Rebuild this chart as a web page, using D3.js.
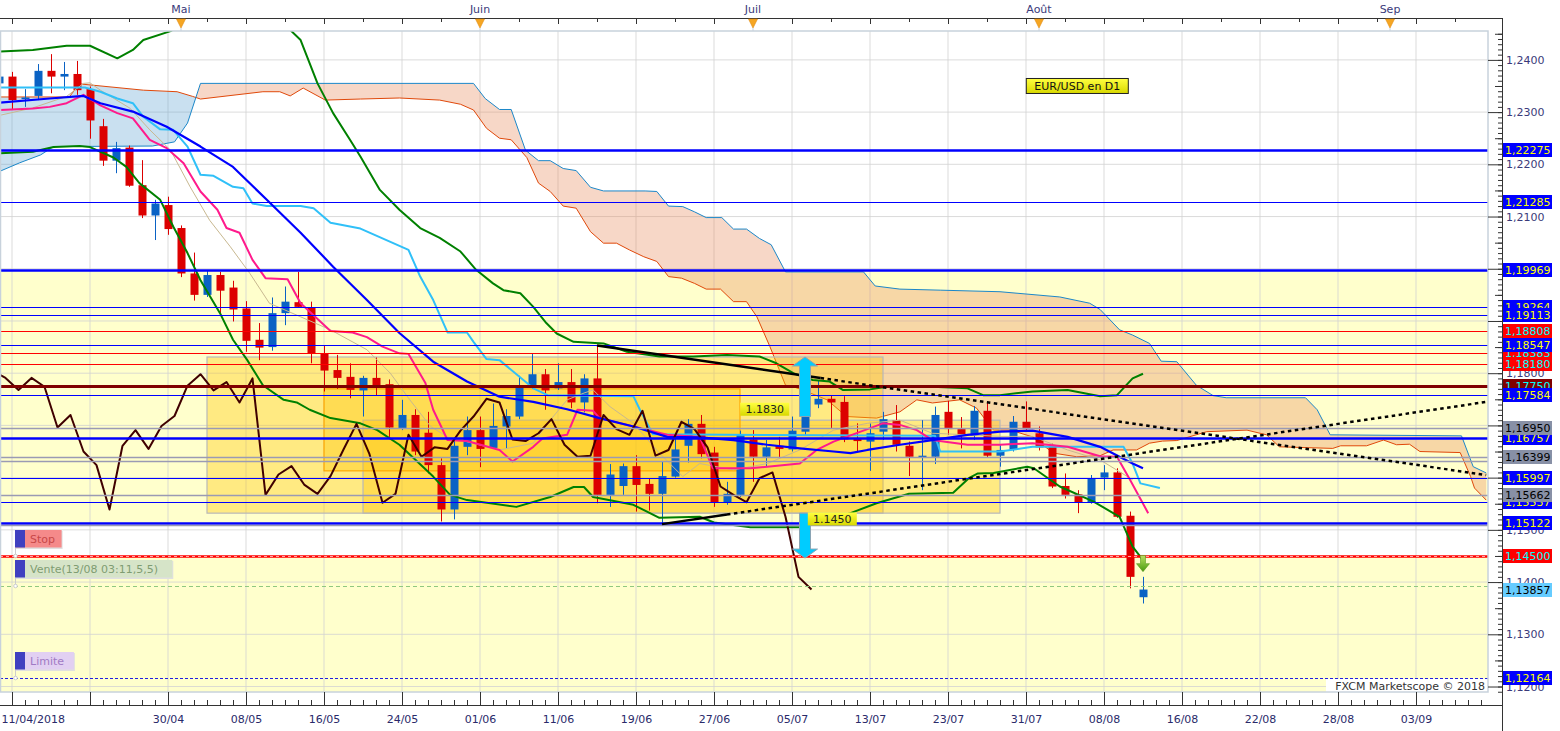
<!DOCTYPE html>
<html><head><meta charset="utf-8">
<script src="https://cdn.jsdelivr.net/npm/d3@7"></script>
<style>
body{margin:0;background:#fff;overflow:hidden}
svg{display:block}
text{font-family:"DejaVu Sans",Verdana,sans-serif;font-size:11px}
</style>
</head><body>
<svg id="c" width="1560" height="731"></svg>
<script>
// ---------------- DATA ----------------
const dates = ("11/04 12/04 13/04 16/04 17/04 18/04 19/04 20/04 23/04 24/04 25/04 26/04 27/04 30/04 " +
 "01/05 02/05 03/05 04/05 07/05 08/05 09/05 10/05 11/05 14/05 15/05 16/05 17/05 18/05 21/05 22/05 23/05 24/05 25/05 28/05 29/05 30/05 31/05 " +
 "01/06 04/06 05/06 06/06 07/06 08/06 11/06 12/06 13/06 14/06 15/06 18/06 19/06 20/06 21/06 22/06 25/06 26/06 27/06 28/06 29/06 " +
 "02/07 03/07 04/07 05/07 06/07 09/07 10/07 11/07 12/07 13/07 16/07 17/07 18/07 19/07 20/07 23/07 24/07 25/07 26/07 27/07 30/07 31/07 " +
 "01/08 02/08 03/08 06/08 07/08 08/08 09/08 10/08 13/08").split(" ");

const open = [1.2355,1.2368,1.2325,1.2331,1.2379,1.2368,1.2373,1.2344,1.2273,1.2207,
 1.2232,1.2160,1.2102,1.2122,1.2078,1.1991,1.1950,1.1988,1.1964,1.1924,
 1.1864,1.1850,1.1915,1.1936,1.1926,1.1838,1.1806,1.1793,1.1767,1.1791,
 1.1779,1.1695,1.1720,1.1686,1.1624,1.1539,1.1659,1.1691,1.1657,1.1698,
 1.1717,1.1773,1.1798,1.1771,1.1783,1.1744,1.1790,1.1567,1.1584,1.1622,
 1.1588,1.1569,1.1602,1.1661,1.1703,1.1648,1.1552,1.1567,1.1673,1.1640,
 1.1661,1.1654,1.1688,1.1740,1.1751,1.1745,1.1675,1.1669,1.1688,1.1710,
 1.1661,1.1639,1.1640,1.1726,1.1693,1.1680,1.1728,1.1642,1.1653,1.1707,
 1.1685,1.1659,1.1584,1.1568,1.1553,1.1600,1.1610,1.1527,1.1371];
const high = [1.2375,1.2377,1.2344,1.2392,1.2411,1.2396,1.2398,1.2349,1.2287,1.2243,
 1.2236,1.2208,1.2132,1.2138,1.2083,1.2031,1.1997,1.1994,1.1977,1.1938,
 1.1896,1.1945,1.1966,1.1994,1.1937,1.1852,1.1835,1.1819,1.1795,1.1830,
 1.1788,1.1749,1.1731,1.1726,1.1637,1.1672,1.1717,1.1717,1.1742,1.1731,
 1.1795,1.1838,1.1808,1.1819,1.1808,1.1798,1.1852,1.1626,1.1627,1.1643,
 1.1599,1.1632,1.1678,1.1712,1.1720,1.1659,1.1592,1.1690,1.1691,1.1672,
 1.1678,1.1717,1.1730,1.1787,1.1758,1.1756,1.1704,1.1704,1.1726,1.1739,
 1.1669,1.1710,1.1736,1.1747,1.1716,1.1737,1.1746,1.1662,1.1718,1.1746,
 1.1698,1.1665,1.1608,1.1576,1.1605,1.1624,1.1618,1.1535,1.1410];
const low = [1.2350,1.2304,1.2310,1.2323,1.2336,1.2342,1.2333,1.2249,1.2197,1.2183,
 1.2157,1.2097,1.2055,1.2065,1.1984,1.1939,1.1946,1.1913,1.1899,1.1841,
 1.1825,1.1843,1.1892,1.1926,1.1819,1.1765,1.1770,1.1752,1.1717,1.1758,
 1.1678,1.1691,1.1643,1.1608,1.1516,1.1520,1.1643,1.1620,1.1656,1.1655,
 1.1712,1.1770,1.1730,1.1768,1.1733,1.1725,1.1551,1.1544,1.1567,1.1535,
 1.1537,1.1511,1.1600,1.1629,1.1637,1.1544,1.1548,1.1563,1.1592,1.1621,
 1.1637,1.1650,1.1682,1.1733,1.1695,1.1668,1.1650,1.1613,1.1672,1.1650,
 1.1603,1.1576,1.1626,1.1682,1.1656,1.1672,1.1638,1.1621,1.1650,1.1688,
 1.1652,1.1580,1.1560,1.1532,1.1550,1.1576,1.1523,1.1388,1.1359];
const close = [1.2368,1.2323,1.2328,1.2379,1.2368,1.2373,1.2342,1.2284,1.2207,1.2231,
 1.2159,1.2102,1.2125,1.2076,1.1991,1.1950,1.1988,1.1958,1.1922,1.1862,
 1.1849,1.1915,1.1937,1.1927,1.1837,1.1805,1.1791,1.1768,1.1791,1.1774,
 1.1696,1.1720,1.1650,1.1624,1.1539,1.1661,1.1691,1.1655,1.1699,1.1718,
 1.1776,1.1798,1.1767,1.1783,1.1744,1.1790,1.1567,1.1606,1.1622,1.1586,
 1.1569,1.1603,1.1654,1.1703,1.1645,1.1552,1.1569,1.1682,1.1640,1.1658,
 1.1655,1.1690,1.1717,1.1751,1.1744,1.1673,1.1670,1.1685,1.1712,1.1663,
 1.1640,1.1642,1.1720,1.1693,1.1682,1.1728,1.1642,1.1653,1.1707,1.1693,
 1.1658,1.1583,1.1567,1.1553,1.1599,1.1610,1.1525,1.1410,1.13857];

// indicator lines: [bar index, price]
const senkouA = [[0.1,1.2329],[5.4,1.2329],[6.2,1.2354],[11.1,1.2342],[13.7,1.2339],[14.9,1.2330],[15.5,1.2325],
 [20.3,1.2339],[21.6,1.2339],[22.4,1.2331],[23.4,1.2346],[25.1,1.2323],[27.8,1.2325],[30.8,1.2327],[33.9,1.2323],
 [35.5,1.2315],[36.5,1.2304],[37.5,1.2269],[38.5,1.2250],[39.4,1.2247],[40.6,1.2213],[41.5,1.2164],[42.4,1.2148],
 [43.4,1.2120],[44.4,1.2116],[45.5,1.2071],[46.5,1.2049],[47.5,1.2049],[48.5,1.2036],[49.6,1.2023],[50.6,1.2014],
 [51.5,1.1985],[52.5,1.1982],[53.5,1.1972],[54.4,1.1961],[55.5,1.1961],[56.5,1.1937],[57.5,1.1937],[58.3,1.1908],
 [59.3,1.1851],[60.5,1.1777],[61.1,1.1774],[61.8,1.1768],[63.7,1.1749],[65.2,1.1717],[67.5,1.1714],[69.3,1.1726],
 [70.6,1.1749],[71.8,1.1743],[73.9,1.1749],[75.2,1.1733],[76.5,1.1691],[77.8,1.1691],[79.5,1.1678],[81.1,1.1647],
 [82.9,1.1640],[84.7,1.1642],[85.7,1.1653],[87.5,1.1653],[88.5,1.1666],[89.5,1.1670],[90.6,1.1671],[92.9,1.1688],
 [96.0,1.1691],[97.5,1.1682],[98.5,1.1659],[102.6,1.1656],[103.2,1.1661],[105.2,1.1661],[106.5,1.1672],[107.5,1.1663],
 [108.5,1.1664],[109.3,1.1650],[112.4,1.1648],[113.2,1.1602],[113.5,1.1580],[114.4,1.1557]];
const senkouB = [[0.1,1.2187],[1.6,1.2203],[3.2,1.2218],[4.2,1.2234],[11.8,1.2235],[13.5,1.2243],[14.5,1.2279],[15.5,1.2355],
 [36.5,1.2355],[37.4,1.2326],[38.5,1.2305],[39.4,1.2305],[40.5,1.2227],[41.5,1.2207],[42.4,1.2207],[43.4,1.2192],
 [44.4,1.2188],[45.5,1.2156],[46.5,1.2149],[49.7,1.2149],[50.6,1.2148],[51.5,1.2120],[52.6,1.2119],[53.5,1.2109],
 [54.4,1.2098],[55.6,1.2098],[56.5,1.2076],[57.5,1.2076],[58.5,1.2058],[59.4,1.2046],[60.5,1.1994],[66.5,1.1994],
 [67.4,1.1967],[69.3,1.1961],[72.4,1.1959],[77,1.1956],[81.6,1.1946],[83.9,1.1934],[84.7,1.1922],[86.2,1.1883],
 [87.2,1.1873],[88.5,1.1857],[89.4,1.1823],[90.6,1.1822],[92.1,1.1777],[93.4,1.1757],[94.4,1.1753],[100.5,1.1753],
 [101.4,1.1730],[102.4,1.1682],[112.5,1.1680],[113.4,1.1621],[114.4,1.1609]];
const cloudTwistIdx = 15.1;

const tenkan = [[0.1,1.2304],[2.6,1.2307],[3.9,1.2310],[5.2,1.2317],[6.5,1.2333],[7.8,1.2313],[9.1,1.2298],[10.3,1.2288],
 [11.6,1.2247],[12.9,1.2231],[14.2,1.2202],[15.5,1.2148],[16.8,1.2113],[17.5,1.2078],[18.5,1.2069],[19.5,1.2017],
 [20.5,1.1982],[22.2,1.1980],[23.2,1.1934],[25.5,1.1881],[27.2,1.1878],[28.3,1.1869],[29.5,1.1851],[30.8,1.1838],
 [31.5,1.1837],[32.8,1.1781],[33.4,1.1730],[34.5,1.1672],[36,1.1670],[38.5,1.1653],[39.5,1.1631],[41.1,1.1659],
 [41.8,1.1675],[43.7,1.1682],[44.5,1.1730],[45.7,1.1728],[46.2,1.1714],[48.8,1.1698],[51.4,1.1682],[53.9,1.1678],
 [54.9,1.1618],[57.8,1.1618],[59.1,1.1621],[61.6,1.1627],[62.9,1.1653],[64.2,1.1669],[66.8,1.1693],[68,1.1704],
 [69.3,1.1701],[70.6,1.1691],[71.8,1.1672],[74.5,1.1663],[77,1.1663],[79.5,1.1666],[82.2,1.1659],[84.7,1.1641],
 [86,1.1640],[87,1.1596],[88.4,1.1532]];
const kijun = [[0.1,1.2347],[6.6,1.2347],[7.8,1.2339],[9.1,1.2326],[10.3,1.2317],[11.1,1.2291],[12.4,1.2267],[13.4,1.2266],
 [14.5,1.2234],[15.5,1.2180],[16.5,1.2178],[18,1.2157],[18.8,1.2154],[19.5,1.2125],[20.6,1.2120],[23.2,1.2120],
 [24.2,1.2116],[25.5,1.2088],[27.8,1.2077],[31.5,1.2036],[32.4,1.1985],[33.4,1.1940],[34.5,1.1878],[36,1.1878],
 [36.5,1.1860],[37.5,1.1827],[38.5,1.1825],[41.1,1.1771],[42.2,1.1758],[48.8,1.1756],[49.3,1.1730],[50.3,1.1683],
 [72,1.1680],[72.4,1.1650],[77,1.1650],[79.5,1.1659],[86.5,1.1659],[87.2,1.1627],[87.8,1.1589],[89.3,1.1580]];
const bbUpper = [[0.1,1.2416],[2.6,1.2419],[5.2,1.2427],[7,1.2427],[9.1,1.2403],[10.3,1.2419],[11.1,1.2438],[13.2,1.2455],
 [14,1.2467],[22,1.2467],[23.2,1.2438],[24.5,1.2355],[25.7,1.2298],[27,1.2247],[27.8,1.2215],[29.3,1.2151],
 [30.8,1.2113],[32.4,1.2078],[33.9,1.2059],[35.5,1.2033],[36.7,1.1998],[38,1.1972],[38.8,1.1959],[40.1,1.1953],
 [41.1,1.1927],[42.1,1.1896],[42.9,1.1876],[44.2,1.1860],[46.5,1.1857],[48.3,1.1841],[50.8,1.1832],[53.4,1.1832],
 [56,1.1835],[58.5,1.1832],[59.8,1.1819],[61.1,1.1800],[62.6,1.1787],[63.9,1.1784],[64.9,1.1768],[67,1.1769],
 [68.3,1.1774],[71.8,1.1774],[74.5,1.1771],[75.7,1.1758],[77,1.1758],[79.5,1.1765],[82.2,1.1768],[84.7,1.1756],
 [86,1.1758],[87.2,1.1790],[88,1.1799]];
const bbLower = [[0.1,1.2221],[2.6,1.2224],[4.2,1.2233],[6.2,1.2235],[7,1.2233],[8.8,1.2213],[9.8,1.2195],[10.8,1.2164],
 [12.4,1.2132],[13.4,1.2081],[14.5,1.2030],[15.5,1.1978],[17,1.1915],[18,1.1864],[19.1,1.1825],[20.3,1.1777],
 [21.9,1.1749],[22.9,1.1744],[23.9,1.1730],[25.5,1.1714],[27.8,1.1704],[29.1,1.1691],[30.8,1.1663],[33.4,1.1602],
 [34.7,1.1567],[36,1.1557],[39.8,1.1544],[42.4,1.1563],[44.2,1.1582],[45,1.1582],[45.7,1.1563],[48.8,1.1548],
 [50.8,1.1523],[53.9,1.1525],[55,1.1514],[57.8,1.1505],[61.6,1.1505],[62.8,1.1512],[65.5,1.1532],[67.5,1.1551],
 [70,1.1569],[73.4,1.1571],[74.6,1.1599],[75.3,1.1608],[76.5,1.1609],[79.1,1.1621],[79.6,1.1618],[81.6,1.1583],
 [84.2,1.1554],[86.2,1.1525],[87.2,1.1468],[88,1.1442]];
const maBlue = [[0,1.2318],[3.9,1.2326],[6.5,1.2331],[7.8,1.2317],[10.3,1.2301],[12.9,1.2272],[15.5,1.2234],[18,1.2195],
 [20.6,1.2132],[23.2,1.2069],[25.7,1.2004],[28.3,1.1940],[30.8,1.1877],[33.4,1.1822],[36,1.1784],[38.5,1.1755],
 [41.1,1.1745],[43.7,1.1731],[46.2,1.1714],[48.8,1.1698],[51.4,1.1678],[53.9,1.1677],[56.5,1.1672],[59.1,1.1663],
 [61.6,1.1656],[64.2,1.1650],[65.5,1.1647],[66.8,1.1653],[69.3,1.1663],[71.8,1.1672],[74.5,1.1682],[77,1.1688],
 [79.5,1.1690],[82.2,1.1678],[84.7,1.1659],[87.2,1.1627],[88,1.1618]];
const maTan = [[0.1,1.2294],[2.6,1.2308],[5.2,1.2330],[6.5,1.2355],[7,1.2356],[7.8,1.2342],[10.1,1.2307],[11.6,1.2266],
 [13.2,1.2227],[14.7,1.2157],[16.2,1.2093],[17.8,1.2042],[19.3,1.1991],[20.8,1.1934],[23.2,1.1908],[25.5,1.1883],
 [28.3,1.1845],[30.1,1.1800],[31.6,1.1749],[33.2,1.1698],[34.5,1.1678],[38.5,1.1653],[41.1,1.1666],[42.2,1.1704],
 [43.7,1.1749],[45,1.1762],[45.7,1.1768],[47,1.1736],[48.8,1.1704],[50.8,1.1647],[52.6,1.1602],[53.9,1.1627],
 [56.5,1.1615],[59.1,1.1627],[61.6,1.1653],[64.2,1.1691],[66.8,1.1704],[69.3,1.1710],[71.8,1.1685],[74.5,1.1682],
 [77,1.1679],[79.5,1.1679],[82.2,1.1653],[84.7,1.1634],[87.2,1.1596]];
const chikouShift = 26;

// horizontal levels
const levelValues = [1.22275,1.21285,1.19969,1.19264,1.19113,1.18808,1.18547,1.18383,1.18180,1.17750,1.17584,
 1.16950,1.16757,1.16399,1.16325,1.15997,1.15662,1.15537,1.15122,1.15088,1.14500,1.13920,1.12164];
const levelKinds = ['blueThick','blue','blueThick','blue','blue','red','blue','red','red','darkred','blue',
 'gray','blueThick','gray','gray','blue','gray','blue','blueThick','gray','stop','entry','limit'];
// price tags on right axis (drawing order)
const tagValues = [1.22275,1.21285,1.19969,1.19264,1.19113,1.18808,1.18383,1.18547,1.18180,1.17750,1.17584,
 1.16757,1.16950,1.16399,1.15537,1.15997,1.15662,1.15122,1.14500,1.13857,1.12164];
const tagKinds = ['blue','blue','blue','blue','blue','red','red','blue','red','darkred','blue',
 'blue','gray','gray','blue','blue','gray','blue','red','current','blue'];

const yellowZones = [[1.15122,1.19969],[1.10,1.14500]];
// rectangles: [startIdx, endIdx, top, bottom]
const boxes = [[16,68,1.1831,1.1532],[28,77,1.1710,1.1532],[25,57,1.1770,1.1613]];
// trend lines: [idx1, price1, idx2, price2, solid-until idx]
const trendLines = [[46,1.1853,114.4,1.1605,63.2],[51,1.1511,114.4,1.1745,56]];
// measure arrows: [idx, from, to]
const measureArrows = [[62,1.1717,1.1831],[62,1.1532,1.1446]];
const measureLabels = [['1.1830',58.9,1.1731],['1.1450',64.1,1.1521]];
const sellArrow = [88,1.1451,1.1420];
const orderLabels = [['Stop',1.14500],['Vente(13/08 03:11,5,5)',1.13920],['Limite',1.12164]];

const priceTicks = [1.12,1.13,1.14,1.15,1.16,1.17,1.18,1.19,1.20,1.21,1.22,1.23,1.24];
// labels fully hidden under price tags in the reference are left blank
const priceTickLabels = ['1,1200','1,1300','1,1400','1,1500','','','1,1800','','','1,2100','1,2200','1,2300','1,2400'];
const gridIdx = [1,7,13,19,25,31,37,43,49,55,61,67,73,79,85,91,97,103,109];
const dateLabels = ['11/04/2018','','30/04','08/05','16/05','24/05','01/06','11/06','19/06','27/06','05/07','13/07','23/07','31/07','08/08','16/08','22/08','28/08','03/09'];
const monthIdx = [14,37,58,80,107];
const monthLabels = ['Mai','Juin','Juil','Août','Sep'];

// ---------------- DRAW ----------------
const svg = d3.select('#c');
const X0=0, X1=1488, Y0=31, Y1=692;
const x = d3.scaleLinear().domain([0,114]).range([-1,1481]);
const y = d3.scaleLinear().domain([1.11895,1.24553]).range([Y1,Y0]);
const line = d3.line().x(d=>x(d[0])).y(d=>y(d[1]));

const defs = svg.append('defs');
defs.append('clipPath').attr('id','plot').append('rect').attr('x',X0).attr('y',Y0).attr('width',X1-X0).attr('height',Y1-Y0);
const tw = x(cloudTwistIdx);
defs.append('clipPath').attr('id','cl1').append('rect').attr('x',-10).attr('y',0).attr('width',tw+10).attr('height',800);
defs.append('clipPath').attr('id','cl2').append('rect').attr('x',tw).attr('y',0).attr('width',2000).attr('height',800);
const yg = defs.append('linearGradient').attr('id','yel').attr('x1',0).attr('y1',0).attr('x2',0).attr('y2',1);
yg.append('stop').attr('offset','0').attr('stop-color','#ffff40');
yg.append('stop').attr('offset','1').attr('stop-color','#d8d800');
const gg = defs.append('linearGradient').attr('id','grn').attr('x1',0).attr('y1',0).attr('x2',0).attr('y2',1);
gg.append('stop').attr('offset','0').attr('stop-color','#b8e060');
gg.append('stop').attr('offset','1').attr('stop-color','#4a9a10');

svg.append('rect').attr('width',1560).attr('height',731).attr('fill','#fff');
const P = svg.append('g').attr('clip-path','url(#plot)');

// yellow zones
P.selectAll('.zone').data(yellowZones).enter().append('rect')
 .attr('x',X0).attr('width',X1-X0).attr('y',d=>y(d[1])).attr('height',d=>y(d[0])-y(d[1])).attr('fill','#ffffcc');

// grid
P.selectAll('.vg').data(gridIdx).enter().append('line')
 .attr('x1',d=>x(d)).attr('x2',d=>x(d)).attr('y1',Y0).attr('y2',Y1).attr('stroke','#d2d2d2').attr('stroke-opacity',0.8);
P.selectAll('.hg').data(priceTicks).enter().append('line')
 .attr('y1',d=>y(d)).attr('y2',d=>y(d)).attr('x1',X0).attr('x2',X1).attr('stroke','#d2d2d2').attr('stroke-opacity',0.8);

// cloud
const cloudD = 'M' + senkouA.map(p=>x(p[0])+','+y(p[1])).join('L') + 'L' +
  senkouB.slice().reverse().map(p=>x(p[0])+','+y(p[1])).join('L') + 'Z';
P.append('g').attr('clip-path','url(#cl1)').append('path').attr('d',cloudD).attr('fill','rgb(90,160,210)').attr('fill-opacity',0.33);
P.append('g').attr('clip-path','url(#cl2)').append('path').attr('d',cloudD).attr('fill','rgb(232,145,100)').attr('fill-opacity',0.36);
P.append('path').attr('d',line(senkouA)).attr('fill','none').attr('stroke','#e0480a').attr('stroke-width',1);
P.append('path').attr('d',line(senkouB)).attr('fill','none').attr('stroke','#1b87c9').attr('stroke-width',1);

// rectangles
P.selectAll('.box').data(boxes).enter().append('rect')
 .attr('x',d=>x(d[0])).attr('width',d=>x(d[1])-x(d[0]))
 .attr('y',d=>y(d[2])).attr('height',d=>y(d[3])-y(d[2]))
 .attr('fill','#ffc400').attr('fill-opacity',0.36)
 .attr('stroke',(d,i)=>i===2?'#ffa800':'#b8b8b8').attr('stroke-width',1.2);

// candles
const idx = d3.range(open.length);
const bull = '#0a62c4', bear = '#dc0000';
P.selectAll('.wick').data(idx).enter().append('line')
 .attr('x1',i=>x(i)+0.5).attr('x2',i=>x(i)+0.5).attr('y1',i=>y(high[i])).attr('y2',i=>y(low[i]))
 .attr('stroke',i=>close[i]>=open[i]?bull:bear).attr('stroke-width',1);
P.selectAll('.body').data(idx).enter().append('rect')
 .attr('x',i=>x(i)-3.5).attr('width',8)
 .attr('y',i=>y(Math.max(open[i],close[i])))
 .attr('height',i=>Math.max(1.5,Math.abs(y(open[i])-y(close[i]))))
 .attr('fill',i=>close[i]>=open[i]?bull:bear);

// indicator lines
const drawLine=(pts,col,w)=>P.append('path').attr('d',line(pts)).attr('fill','none').attr('stroke',col).attr('stroke-width',w).attr('stroke-linejoin','round');
drawLine(maTan,'#c8b890',1);
drawLine(bbUpper,'#008000',2);
drawLine(bbLower,'#008000',2);
drawLine(kijun,'#30c0f8',2);
drawLine(tenkan,'#ff1a8c',2);
drawLine(maBlue,'#0000ff',2.2);
const chikou = d3.range(-1, close.length-chikouShift).map(k=>[k+0.5, close[k+chikouShift]]);
drawLine(chikou,'#400000',2);

// horizontal levels
const lvStyle = {blue:['#0000ff',1],blueThick:['#0000ff',2.5],red:['#ff0000',1],darkred:['#800000',3],
  gray:['#9a9ab4',1.3],stop:['#ff0000',2.5],entry:['#90c880',1],limit:['#2020e0',1]};
levelValues.forEach((v,i)=>{
  const k = levelKinds[i], s = lvStyle[k];
  const l = P.append('line').attr('x1',X0).attr('x2',X1).attr('y1',Math.round(y(v))+0.5).attr('y2',Math.round(y(v))+0.5)
   .attr('stroke',s[0]).attr('stroke-width',s[1]);
  if(k==='entry') l.attr('stroke-dasharray','4,3');
  if(k==='limit') l.attr('stroke-dasharray','3,2');
  if(k==='stop') P.append('line').attr('x1',X0).attr('x2',X1).attr('y1',Math.round(y(v))+0.5).attr('y2',Math.round(y(v))+0.5)
   .attr('stroke','#ffd0d0').attr('stroke-width',0.8).attr('stroke-dasharray','3,3');
});

// trend lines
trendLines.forEach(t=>{
  const f = (i)=> t[1] + (t[3]-t[1])*(i-t[0])/(t[2]-t[0]);
  P.append('path').attr('d',line([[t[0],t[1]],[t[4],f(t[4])]])).attr('stroke','#000').attr('stroke-width',2.5).attr('fill','none');
  P.append('path').attr('d',line([[t[4],f(t[4])],[t[2],t[3]]])).attr('stroke','#000').attr('stroke-width',2.5)
   .attr('stroke-dasharray','3.5,3.5').attr('fill','none');
});

// measure arrows
measureArrows.forEach(a=>{
  const cx = x(a[0]), y1 = y(a[1]), y2 = y(a[2]);
  const dir = y2<y1 ? -1 : 1;
  const headLen = 9, sw = 5.5, hw = 12.5;
  const yh = y2 - dir*headLen;
  const d = `M${cx-sw},${y1}L${cx-sw},${yh}L${cx-hw},${yh}L${cx},${y2}L${cx+hw},${yh}L${cx+sw},${yh}L${cx+sw},${y1}Z`;
  P.append('path').attr('d',d).attr('fill','#00ccff').attr('stroke','#8aa4b4').attr('stroke-width',1);
});
measureLabels.forEach(m=>{
  const cx = x(m[1]), cy = y(m[2]);
  const g = P.append('g');
  g.append('rect').attr('x',cx-24.5).attr('y',cy-6.5).attr('width',49).attr('height',13).attr('fill','url(#yel)');
  g.append('text').attr('x',cx).attr('y',cy).attr('dy','0.36em').attr('text-anchor','middle').attr('fill','#222').text(m[0]);
});

// sell arrow
{
  const cx = x(sellArrow[0]), y1 = y(sellArrow[1]), y2 = y(sellArrow[2]);
  const yh = y2-8;
  const d = `M${cx-2.5},${y1}L${cx-2.5},${yh}L${cx-6.5},${yh}L${cx},${y2}L${cx+6.5},${yh}L${cx+2.5},${yh}L${cx+2.5},${y1}Z`;
  P.append('path').attr('d',d).attr('fill','url(#grn)').attr('stroke','#5a9a20').attr('stroke-width',0.6);
}

// order labels
const olStyle = [['#f58a8a','#c84848'],['#d6e4c8','#7f9c72'],['#e2d0f2','#a07ac4']];
orderLabels.forEach((o,i)=>{
  const ly = Math.round(y(o[1]));
  const g = P.append('g');
  const txtW = o[0].length*6.15 + 12;
  g.append('line').attr('x1',15.5).attr('x2',15.5).attr('y1',ly-8).attr('y2',ly).attr('stroke','#ccc');
  g.append('circle').attr('cx',15.5).attr('cy',ly).attr('r',1.8).attr('fill','#fff').attr('stroke','#ccc');
  g.append('rect').attr('x',16).attr('y',ly-25).attr('width',txtW+10).attr('height',18).attr('fill','#e0e0e0');
  g.append('rect').attr('x',15).attr('y',ly-26).attr('width',txtW+10).attr('height',17.5).attr('fill',olStyle[i][0]);
  g.append('rect').attr('x',15).attr('y',ly-26).attr('width',10).attr('height',17.5).attr('fill','#4040c0');
  g.append('text').attr('x',30).attr('y',ly-17).attr('dy','0.36em').attr('fill',olStyle[i][1]).attr('font-size','12px').text(o[0]);
});

// EUR/USD label and copyright
P.append('rect').attr('x',x(80.1)-14).attr('y',y(1.2350)-7.5).attr('width',102).attr('height',15)
 .attr('fill','url(#yel)').attr('stroke','#222').attr('stroke-width',1);
P.append('text').attr('x',x(80.1)+37).attr('y',y(1.2350)).attr('dy','0.36em').attr('text-anchor','middle').attr('fill','#111').text('EUR/USD en D1');
P.append('rect').attr('x',1326).attr('y',679).attr('width',162).attr('height',13).attr('fill','#fff');
P.append('text').attr('x',1485).attr('y',686).attr('dy','0.36em').attr('text-anchor','end').attr('fill','#333').text('FXCM Marketscope © 2018');

// plot frame
svg.append('rect').attr('x',X0+0.5).attr('y',Y0).attr('width',X1-X0-0.5).attr('height',Y1-Y0)
 .attr('fill','none').attr('stroke','#c8d2dc').attr('stroke-width',1.5);

// ---------- axes ----------
const fmt5 = v=>d3.format('.5f')(v).replace('.',',');
// right axis
const RA = 1502;
const minorT = d3.range(1119,1246).map(d=>d/1000);
const ra1 = svg.append('g').attr('transform',`translate(${RA},0)`)
 .call(d3.axisRight(y).tickValues(minorT).tickSizeInner(-4).tickSizeOuter(0).tickFormat(''));
const midT = d3.range(1125,1250,10).map(d=>d/1000);
const ra2 = svg.append('g').attr('transform',`translate(${RA},0)`)
 .call(d3.axisRight(y).tickValues(midT).tickSizeInner(-7).tickSizeOuter(0).tickFormat(''));
const ra3 = svg.append('g').attr('transform',`translate(${RA},0)`)
 .call(d3.axisRight(y).tickValues(priceTicks).tickSizeInner(-14).tickSizeOuter(0).tickPadding(4)
   .tickFormat((d,i)=>priceTickLabels[i]));
[ra1,ra2,ra3].forEach(g=>{g.select('.domain').remove(); g.selectAll('line').attr('stroke','#333');});
ra3.selectAll('text').attr('fill','#3a3a7a').attr('font-family','"DejaVu Sans",Verdana,sans-serif').attr('font-size','11px');
ra3.selectAll('text').filter(function(){return this.textContent==='';}).remove();

// tags
const tagStyle = {blue:['#0000ff','#ffff00'],red:['#ff0000','#00ffff'],darkred:['#800000','#00ffff'],
  gray:['#8890a6','#000000'],current:['#66ccff','#000000']};
tagValues.forEach((v,i)=>{
  const s = tagStyle[tagKinds[i]], cy = Math.round(y(v));
  svg.append('rect').attr('x',1503).attr('y',cy-7).attr('width',49).attr('height',14).attr('fill',s[0]);
  svg.append('text').attr('x',1505).attr('y',cy).attr('dy','0.36em').attr('fill',s[1]).text(fmt5(v));
});

// axis lines
svg.append('line').attr('x1',RA+0.5).attr('x2',RA+0.5).attr('y1',18).attr('y2',731).attr('stroke','#333');
svg.append('line').attr('x1',0).attr('x2',RA).attr('y1',18.5).attr('y2',18.5).attr('stroke','#333');
svg.append('line').attr('x1',0).attr('x2',RA).attr('y1',705.5).attr('y2',705.5).attr('stroke','#333');

// bottom axis
const barT = d3.range(0,115);
const ba1 = svg.append('g').attr('transform','translate(0,705)')
 .call(d3.axisBottom(x).tickValues(barT).tickSizeInner(-5).tickSizeOuter(0).tickFormat(''));
const ba2 = svg.append('g').attr('transform','translate(0,705)')
 .call(d3.axisBottom(x).tickValues(gridIdx).tickSizeInner(-13).tickSizeOuter(0).tickPadding(10)
   .tickFormat((d,i)=>dateLabels[i]));
[ba1,ba2].forEach(g=>{g.select('.domain').remove(); g.selectAll('line').attr('stroke','#333');});
ba1.selectAll('.tick').filter(d=>x(d)<0||x(d)>RA).remove();
ba2.selectAll('.tick').filter(d=>x(d)>RA).remove();
ba2.selectAll('text').attr('fill','#2a2a6a').attr('font-family','"DejaVu Sans",Verdana,sans-serif').attr('font-size','11px');
ba2.selectAll('text').filter((d,i)=>i===0).attr('text-anchor','start').attr('x',1-x(gridIdx[0]));

// top axis
const ta = svg.append('g').attr('transform','translate(0,18)')
 .call(d3.axisBottom(x).tickValues(d3.range(1,115,3)).tickSizeInner(4).tickSizeOuter(0).tickFormat(''));
ta.select('.domain').remove(); ta.selectAll('line').attr('stroke','#333');
ta.selectAll('.tick').filter(d=>x(d)>RA).remove();
ta.selectAll('.tick line').filter(d=>(d-1)%6===0).attr('y2',6);
monthIdx.forEach((m,i)=>{
  const cx = x(m);
  svg.append('path').attr('d',`M${cx-4.5},19L${cx+4.5},19L${cx},28Z`).attr('fill','#f5a623').attr('stroke','#e08a10').attr('stroke-width',0.6);
  svg.append('line').attr('x1',cx).attr('x2',cx).attr('y1',28).attr('y2',31).attr('stroke','#c8d2dc');
  svg.append('text').attr('x',cx).attr('y',13).attr('text-anchor','middle').attr('fill','#3a3a7a').text(monthLabels[i]);
});
</script>
</body></html>
